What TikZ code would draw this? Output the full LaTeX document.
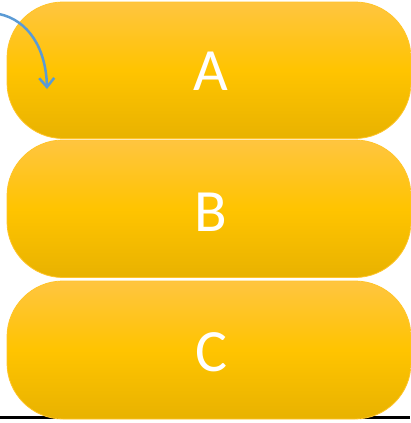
\documentclass[tikz,border=0pt]{standalone}
\usepackage{fontspec}
\setmainfont{Carlito}
\usetikzlibrary{arrows.meta}
\definecolor{boxtop}{HTML}{FFC540}
\definecolor{boxmid}{HTML}{FFC400}
\definecolor{boxbot}{HTML}{E8B200}
\definecolor{boxedge}{HTML}{FFC42A}
\definecolor{arrowblue}{HTML}{5B9BD5}
\tikzset{
  pill/.style={draw=boxedge, line width=0.8pt, rounded corners=56pt,
    top color=boxtop, bottom color=boxbot, middle color=boxmid},
  lbl/.style={text=white, font=\fontsize{60}{62}\selectfont}
}
\begin{document}
\begin{tikzpicture}[x=1pt,y=-1pt]
\useasboundingbox (0,0) rectangle (411,423);
\coordinate (ls) at (0,417.5);
\coordinate (le) at (410,417.5);
\draw[line width=3pt, black] (ls) -- (le);
\path[pill] (7,281) rectangle (411,419);
\path[pill] (7,140) rectangle (411,277.5);
\path[pill] (7,2) rectangle (411,138.5);
\node[lbl] (A) at (211,71) {A};
\node[lbl] (B) at (211,212) {B};
\node[lbl] (C) at (211,352) {C};
\coordinate (as) at (-1,14);
\coordinate (ae) at (47,89);
\draw[arrowblue, line width=2.5pt, -{Straight Barb[length=9pt,width=15pt]}] (as) .. controls (28,20) and (46,48) .. (ae);
\end{tikzpicture}
\end{document}
